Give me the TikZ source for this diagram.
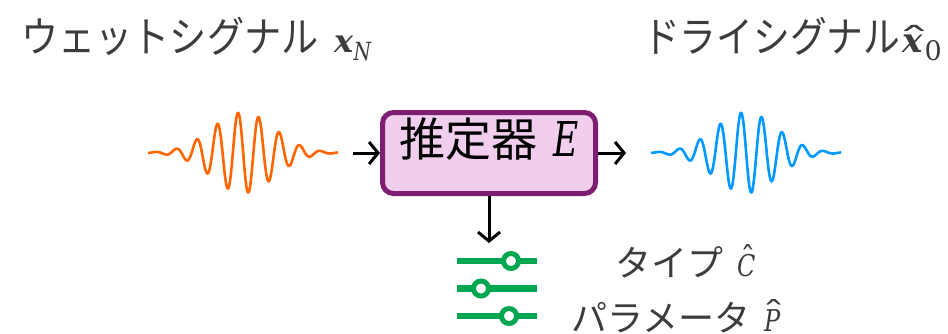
\documentclass[tikz,border=0pt]{standalone}
\usepackage{graphicx}
\usepackage{fontspec}
\newfontfamily\jp{Noto Sans CJK JP}
\newfontfamily\mfont{DejaVu Serif}
\usetikzlibrary{arrows.meta}
\definecolor{txtgray}{RGB}{60,60,60}
\definecolor{estfill}{RGB}{241,206,237}
\definecolor{estdraw}{RGB}{126,30,112}
\definecolor{wetorange}{RGB}{255,102,0}
\definecolor{dryblue}{RGB}{0,153,255}
\definecolor{slidergreen}{RGB}{0,166,80}
% italic math-like letters
\newcommand\mi[1]{\scalebox{0.8}[1]{\mfont\itshape #1}}
\newcommand\mbi[1]{{\mfont\bfseries\itshape #1}}
% letter with a circumflex: #1 letter, #2 raise, #3 hscale, #4 kern
\newcommand\hatover[4]{\ooalign{#1\cr\hidewidth\kern#4\raisebox{#2}{\scalebox{#3}[1]{\mfont\char"02C6}}\hidewidth\cr}}
\tikzset{
  title/.style={text=txtgray, font=\jp\fontsize{42}{48}\selectfont, inner sep=0pt},
  outlabel/.style={text=txtgray, font=\jp\fontsize{36}{40}\selectfont, inner sep=0pt},
  estbox/.style={draw=estdraw, fill=estfill, line width=5pt, rounded corners=11pt,
    minimum width=213pt, minimum height=81pt, font=\jp\fontsize{46}{50}\selectfont,
    inner sep=0pt, text height=0.86em, text depth=0.14em},
  flow/.style={draw=black, line width=3pt, -{Straight Barb[length=9pt,width=22pt,line width=3pt]}},
  wave/.style={line width=2.6pt, line join=round},
  sliderline/.style={draw=slidergreen, line width=6.5pt},
  knob/.style={draw=slidergreen, fill=white, line width=5pt}
}
\begin{document}
\begin{tikzpicture}[x=1pt,y=-1pt]
\useasboundingbox (0,0) rectangle (948,333);
% titles
\node[title, anchor=base west] (tin) at (21,52)
  {\scalebox{0.885}[1]{ウェットシグナル}\hspace{16pt}{\fontsize{32}{34}\selectfont\mbi{x}}\raisebox{-8pt}{\fontsize{25}{26}\selectfont\mi{N}}};
\node[title, anchor=base west] (tout) at (643,52)
  {\scalebox{0.875}[1]{ドライシグナル}\hspace{2pt}{\fontsize{34}{36}\selectfont\hatover{\mbi{x}}{0pt}{2}{4pt}}\hspace{2pt}\raisebox{-8pt}{\fontsize{27}{28}\selectfont\mfont 0}};
% waves
\draw[wave, wetorange] plot[domain=-95:95, samples=380, smooth]
  ({243+\x}, {152.7 - 40.5*exp(-(\x*\x)/1918)*cos(17.476*(\x+5))});
\draw[wave, dryblue] plot[domain=-95:95, samples=380, smooth]
  ({746+\x}, {152.7 - 40.5*exp(-(\x*\x)/1918)*cos(17.476*(\x+5))});
% estimator
\node[estbox] (est) at (489,153) {推定器\hspace{16pt}{\fontsize{48}{50}\selectfont\scalebox{0.9}[1]{\mi{E}}}};
\coordinate (win) at (353,153);
\coordinate (wout) at (626,153);
\coordinate (sl) at (489,243);
\draw[flow] (win) -- (est.west);
\draw[flow] (est.east) -- (wout);
\draw[flow] (est.south) -- (sl);
% slider icon
\draw[sliderline] (457,261) -- (537,261);
\draw[sliderline] (457,288.5) -- (537,288.5);
\draw[sliderline] (457,316) -- (537,316);
\draw[knob] (511,261) circle (7.5);
\draw[knob] (481,288.5) circle (7.5);
\draw[knob] (509,316) circle (7.5);
% output labels
\node[outlabel, anchor=base west] (type) at (615,276)
  {タイプ\hspace{14pt}{\fontsize{30}{34}\selectfont\hatover{\mi{C}}{8pt}{1}{3pt}}};
\node[outlabel, anchor=base west] (param) at (571,331)
  {パラメータ\hspace{14pt}{\fontsize{30}{34}\selectfont\hatover{\mi{P}}{8pt}{1.6}{3pt}}};
\end{tikzpicture}
\end{document}
